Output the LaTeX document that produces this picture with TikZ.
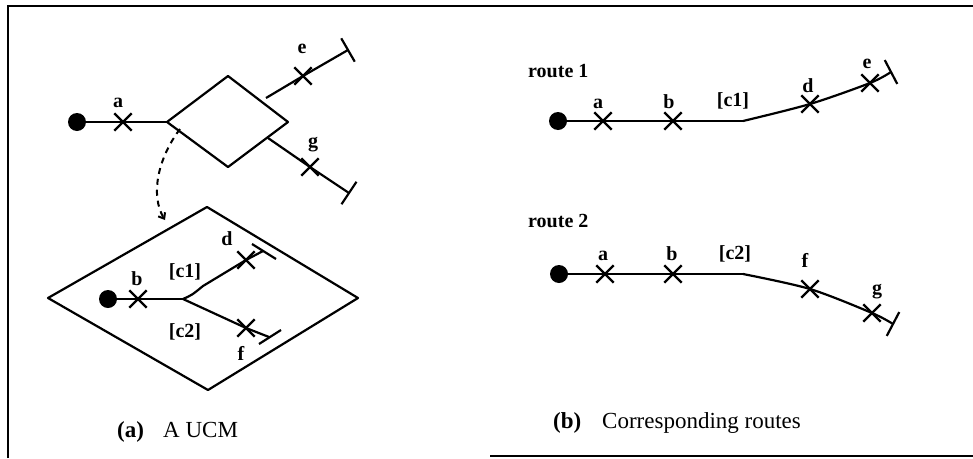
\documentclass[tikz,border=0pt]{standalone}
\usepackage{fontspec}
\setmainfont{Liberation Serif}
\usetikzlibrary{shapes.misc,arrows.meta,calc}
\begin{document}
\begin{tikzpicture}[x=1pt,y=-1pt,
  xmark/.style={draw, cross out, minimum size=15pt, inner sep=0pt, line width=2.4pt},
  startpt/.style={circle, fill, minimum size=18pt, inner sep=0pt},
  ucm/.style={line width=2.2pt, line join=round},
  stub/.style={line width=2.2pt},
  lbl/.style={font=\fontsize{20}{20}\selectfont\bfseries, inner sep=0pt, anchor=base},
  captxt/.style={font=\fontsize{23}{23}\selectfont, inner sep=0pt, anchor=base west},
  captbold/.style={font=\fontsize{23}{23}\selectfont\bfseries, inner sep=0pt, anchor=base west},
  bordr/.style={line width=2pt}]
\useasboundingbox (0,0) rectangle (973,458);
% frame
\draw[bordr] (8,458) -- (8,6) -- (973,6);
\draw[bordr] (490,456) -- (973,456);

% ---------- (a) upper UCM ----------
\node[startpt] (s1) at (77,122) {};
\node[xmark] (xa) at (123,122) {};
\coordinate (dl) at (167,122);
\coordinate (dt) at (228,76);
\coordinate (dr) at (288,122);
\coordinate (db) at (228,167);
\draw[ucm] (dl) -- (dt) -- (dr) -- (db) -- cycle;
\draw[ucm] (s1) -- (xa.center) -- (dl);
% branch e
\coordinate (eo) at (266,98);
\node[xmark] (xe) at (303,76) {};
\coordinate (ee) at (348,50);
\draw[ucm] (eo) -- (xe.center) -- (ee);
\draw[stub] ($(ee)!13.5pt!90:(xe.center)$) -- ($(ee)!13.5pt!-90:(xe.center)$);
% branch g
\coordinate (go) at (268,138);
\node[xmark] (xg) at (310,167) {};
\coordinate (ge) at (349,193);
\draw[ucm] (go) -- (xg.center) -- (ge);
\draw[stub] ($(ge)!13.5pt!90:(xg.center)$) -- ($(ge)!13.5pt!-90:(xg.center)$);
\node[lbl] (la) at (118,107) {a};
\node[lbl] (le) at (302,53) {e};
\node[lbl] (lg) at (313,147) {g};
% dashed refinement arrow
\coordinate (da0) at (180,129);
\coordinate (da1) at (165,220);
\draw[line width=2pt, dash pattern=on 6pt off 5pt, -{Straight Barb[length=5pt,width=8pt]}]
  (da0) .. controls (158,158) and (150,195) .. (da1);

% ---------- (a) lower, refined stub ----------
\coordinate (ll) at (48,298);
\coordinate (lt) at (207,207);
\coordinate (lr) at (358,298);
\coordinate (lb) at (208,390);
\draw[ucm] (ll) -- (lt) -- (lr) -- (lb) -- cycle;
\node[startpt] (s2) at (108,299) {};
\node[xmark] (xb) at (138,299) {};
\coordinate (br) at (183,299);
\node[xmark] (xd) at (246,260) {};
\coordinate (de) at (263,251);
\node[xmark] (xf) at (246,328) {};
\coordinate (fe) at (269,337);
\draw[ucm] (s2) -- (xb.center) -- (br);
\draw[ucm] (br) .. controls (192,295) .. (203,286) -- (xd.center) -- (de);
\draw[ucm] (br) -- (xf.center) -- (fe);
\draw[stub] (252,244) -- (276,259);
\draw[stub] (259,344) -- (281,330);
\node[lbl] (lb2) at (137,285) {b};
\node[lbl] (ld) at (227,245) {d};
\node[lbl] (lc1) at (185,277) {[c1]};
\node[lbl] (lc2) at (185,337) {[c2]};
\node[lbl] (lf) at (241,360) {f};
\node[captbold] (capa) at (117,437) {(a)};
\node[captxt] (capat) at (163,437) {A UCM};

% ---------- (b) routes ----------
\node[lbl, anchor=base west] (rt1) at (528,77) {route 1};
\node[startpt] (r1s) at (558,121) {};
\node[xmark] (r1a) at (603,121) {};
\node[xmark] (r1b) at (673,121) {};
\coordinate (r1c) at (743,121);
\node[xmark] (r1d) at (810,104) {};
\node[xmark] (r1e) at (870,83) {};
\coordinate (r1z) at (891,72);
\draw[ucm] (r1s) -- (r1a.center) -- (r1b.center) -- (r1c);
\draw[ucm] plot[smooth, tension=0.5] coordinates {(r1c) (r1d.center) (r1e.center) (r1z)};
\draw[stub] ($(r1z)!13.5pt!90:(r1e.center)$) -- ($(r1z)!13.5pt!-90:(r1e.center)$);
\node[lbl] (r1la) at (598,108) {a};
\node[lbl] (r1lb) at (669,108) {b};
\node[lbl] (r1lc) at (733,106) {[c1]};
\node[lbl] (r1ld) at (808,92) {d};
\node[lbl] (r1le) at (867,68) {e};

\node[lbl, anchor=base west] (rt2) at (528,227) {route 2};
\node[startpt] (r2s) at (559,274) {};
\node[xmark] (r2a) at (605,274) {};
\node[xmark] (r2b) at (673,274) {};
\coordinate (r2c) at (743,274);
\node[xmark] (r2f) at (810,289) {};
\node[xmark] (r2g) at (872,313) {};
\coordinate (r2z) at (893,324);
\draw[ucm] (r2s) -- (r2a.center) -- (r2b.center) -- (r2c);
\draw[ucm] plot[smooth, tension=0.5] coordinates {(r2c) (r2f.center) (r2g.center) (r2z)};
\draw[stub] ($(r2z)!13.5pt!90:(r2g.center)$) -- ($(r2z)!13.5pt!-90:(r2g.center)$);
\node[lbl] (r2la) at (603,260) {a};
\node[lbl] (r2lb) at (672,260) {b};
\node[lbl] (r2lc) at (735,259) {[c2]};
\node[lbl] (r2lf) at (805,267) {f};
\node[lbl] (r2lg) at (877,294) {g};
\node[captbold] (capb) at (553,428) {(b)};
\node[captxt] (capbt) at (602,428) {Corresponding routes};
\end{tikzpicture}
\end{document}
